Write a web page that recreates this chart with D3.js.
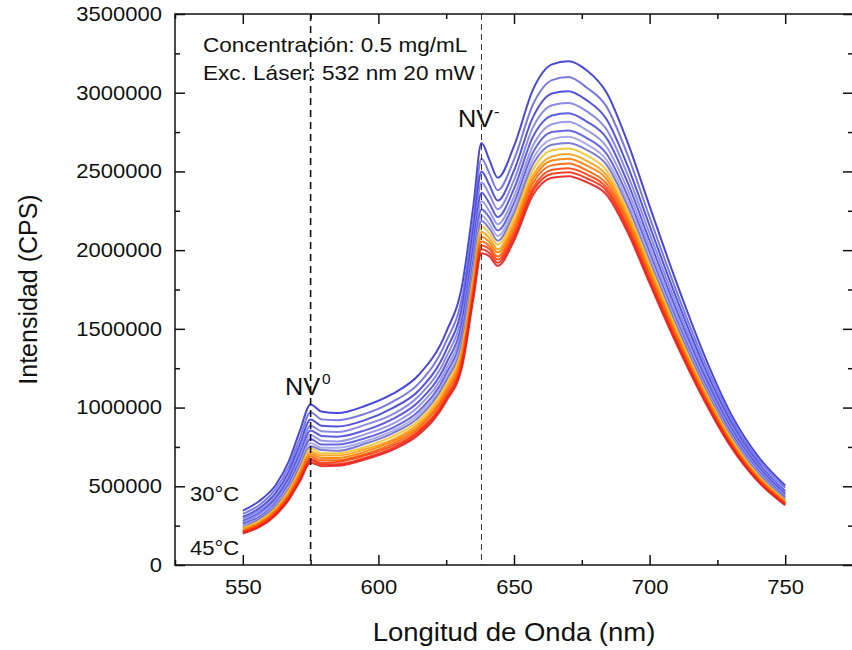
<!DOCTYPE html>
<html>
<head>
<meta charset="utf-8">
<script src="https://cdn.jsdelivr.net/npm/d3@7"></script>
<style>
body { margin: 0; background: #fff; }
text { font-family: "Liberation Sans", Arial, sans-serif; fill: #111; }
</style>
</head>
<body>
<div id="chart"></div>
<script>

// Wavelength grid (nm) shared by every spectrum.
const wavelengths = [550,556,562,567,571,575,579,585,595,605,615,625,631,635,638,
                     641,644,650,657,664,670,677,684,692,700,710,720,730,740,750];

// Temperatures (°C), one spectrum each.
const temps = [30,31,32,33,34,35,36,37,38,39,40,41,42,43,44,45];

// Intensity in thousands of CPS.
const spectra = [
  [345,405,505,660,850,1020,975,965,1010,1085,1210,1480,1790,2280,2680,2570,2460,2660,3020,3180,3200,3140,3005,2680,2280,1790,1340,960,690,505],
  [325,380,480,625,805,970,925,920,960,1035,1155,1420,1715,2195,2580,2485,2380,2575,2925,3080,3100,3030,2915,2600,2210,1735,1300,935,670,490],
  [305,360,455,595,765,925,885,880,920,995,1110,1365,1655,2125,2500,2410,2315,2505,2845,2995,3010,2950,2835,2530,2155,1690,1265,910,650,470],
  [295,345,435,570,735,885,850,845,890,955,1075,1320,1605,2070,2430,2350,2260,2445,2780,2920,2935,2880,2770,2475,2105,1650,1235,890,640,460],
  [280,330,420,550,705,855,820,815,855,925,1040,1280,1555,2015,2365,2295,2210,2390,2720,2855,2870,2815,2715,2425,2060,1615,1210,870,625,450],
  [270,320,405,530,680,825,790,785,830,895,1010,1245,1515,1965,2310,2245,2165,2340,2665,2800,2815,2760,2660,2380,2020,1585,1185,855,610,440],
  [260,305,390,515,660,800,765,765,805,870,980,1215,1480,1925,2260,2205,2125,2300,2620,2750,2760,2710,2615,2340,1985,1555,1165,840,600,430],
  [250,295,380,500,640,775,745,745,785,850,960,1190,1445,1890,2220,2165,2090,2265,2580,2705,2720,2670,2575,2305,1955,1535,1150,825,590,420],
  [240,290,370,485,625,755,730,725,770,835,940,1170,1420,1860,2185,2135,2060,2235,2545,2670,2680,2635,2545,2275,1930,1515,1135,815,580,415],
  [235,280,360,475,605,740,710,710,750,815,920,1145,1395,1830,2150,2105,2035,2205,2510,2635,2645,2600,2510,2245,1910,1495,1120,805,570,410],
  [230,270,350,460,590,720,695,695,735,795,900,1125,1370,1800,2115,2075,2005,2175,2475,2595,2610,2565,2480,2220,1885,1475,1105,790,560,405],
  [220,265,345,450,580,705,680,680,720,785,885,1105,1350,1780,2085,2050,1985,2150,2450,2570,2580,2535,2455,2195,1865,1460,1095,785,555,400],
  [215,260,335,440,565,690,665,665,705,770,870,1090,1325,1755,2055,2025,1960,2125,2425,2540,2550,2505,2425,2175,1845,1445,1080,775,550,395],
  [210,250,330,430,550,675,650,655,695,755,855,1070,1305,1730,2030,2005,1940,2100,2395,2510,2520,2480,2400,2150,1825,1425,1070,765,540,390],
  [205,245,320,425,540,665,640,640,680,740,845,1055,1290,1710,2005,1980,1920,2080,2375,2485,2495,2455,2380,2130,1805,1415,1060,760,535,385],
  [200,240,315,415,530,650,628,630,670,730,830,1040,1270,1690,1980,1960,1900,2060,2350,2460,2470,2430,2355,2110,1790,1400,1050,750,530,380]
];

// Line colour per temperature (blue = cold, red = hot).
const colors = ["#3434d6","#6a6ae2","#4040da","#7d7de6","#4b4bdc","#8f8fe8","#5656de","#a2a2ea",
                "#7070cc","#f2c230","#ffa010","#ff8000","#ff6000","#ff4010","#f42a10","#e81e1e"];

// Axis ticks.
const xTicks = [550,600,650,700,750];
const xMinor = [525,575,625,675,725,775];
const yTicks = [0,500,1000,1500,2000,2500,3000,3500];
const yMinor = [250,750,1250,1750,2250,2750,3250];

// Zero-phonon lines marked with dashes.
const zpl = [
  {nm: 575, sup: "0", width: 1.6, dash: "7,5", color: "#111"},
  {nm: 638, sup: "-", width: 1.0, dash: "6,4", color: "#333"}
];


const W = 852, H = 650;
const SX = 1.1; // the source figure is a little wider than tall, stretch the text to match

let svg = d3.select("#chart").append("svg")
    .attr("width", W)
    .attr("height", H);

// Scales
let x = d3.scaleLinear().domain([525, 775]).range([175, 853]);
let y = d3.scaleLinear().domain([0, 3500]).range([565, 14]);

// put a text at (px,py) stretched horizontally
function label(g, px, py, str, size, anchor) {
  return g.append("text")
    .attr("transform", "translate(" + px + "," + py + ") scale(" + SX + ",1)")
    .attr("text-anchor", anchor || "start")
    .style("font-size", size + "px")
    .text(str);
}

// move the x/y attrs of axis labels into a stretched transform
function stretch(sel) {
  sel.each(function() {
    let t = d3.select(this);
    let tx = +t.attr("x") || 0, ty = +t.attr("y") || 0;
    t.attr("x", null).attr("y", null)
     .attr("transform", "translate(" + tx + "," + ty + ") scale(" + SX + ",1)");
  });
}


// Spectra
svg.append("clipPath").attr("id", "clip")
  .append("rect")
    .attr("x", x.range()[0]).attr("y", y.range()[1])
    .attr("width", x.range()[1] - x.range()[0])
    .attr("height", y.range()[0] - y.range()[1]);

let line = d3.line()
    .x((d, i) => x(wavelengths[i]))
    .y(d => y(d))
    .curve(d3.curveMonotoneX);

svg.append("g")
    .attr("clip-path", "url(#clip)")
  .selectAll("path")
  .data(spectra)
  .join("path")
    .attr("d", line)
    .attr("fill", "none")
    .attr("stroke", (d, i) => colors[i])
    .attr("stroke-width", 2)
    .attr("stroke-opacity", 0.9);


// Dashed ZPL markers
svg.append("g").selectAll("line")
  .data(zpl)
  .join("line")
    .attr("x1", d => x(d.nm)).attr("x2", d => x(d.nm))
    .attr("y1", y.range()[1]).attr("y2", y.range()[0])
    .attr("stroke", d => d.color)
    .attr("stroke-width", d => d.width)
    .attr("stroke-dasharray", d => d.dash);


// Axes - ticks point inward on all four sides
let axBottom = svg.append("g")
    .attr("transform", "translate(0," + y.range()[0] + ")")
    .call(d3.axisBottom(x).tickValues(xTicks).tickSize(-10).tickPadding(15));
axBottom.append("g").call(d3.axisBottom(x).tickValues(xMinor).tickSize(-5).tickFormat(""));

let axTop = svg.append("g")
    .attr("transform", "translate(0," + y.range()[1] + ")")
    .call(d3.axisTop(x).tickValues(xTicks).tickSize(-10).tickFormat(""));
axTop.append("g").call(d3.axisTop(x).tickValues(xMinor).tickSize(-5).tickFormat(""));

let axLeft = svg.append("g")
    .attr("transform", "translate(" + x.range()[0] + ",0)")
    .call(d3.axisLeft(y).tickValues(yTicks).tickSize(-10).tickPadding(13).tickFormat(d => d * 1000));
axLeft.append("g").call(d3.axisLeft(y).tickValues(yMinor).tickSize(-5).tickFormat(""));

let axRight = svg.append("g")
    .attr("transform", "translate(" + x.range()[1] + ",0)")
    .call(d3.axisRight(y).tickValues(yTicks).tickSize(-10).tickFormat(""));
axRight.append("g").call(d3.axisRight(y).tickValues(yMinor).tickSize(-5).tickFormat(""));

svg.selectAll(".domain").remove();
svg.selectAll(".tick line").attr("stroke", "#111").attr("stroke-width", 1.5);
svg.selectAll(".tick text")
    .attr("fill", "#111")
    .style("font-family", '"Liberation Sans", Arial, sans-serif')
    .style("font-size", "20px");
stretch(axBottom.selectAll(".tick text"));
stretch(axLeft.selectAll(".tick text"));

// frame
svg.append("rect")
    .attr("x", x.range()[0]).attr("y", y.range()[1])
    .attr("width", x.range()[1] - x.range()[0])
    .attr("height", y.range()[0] - y.range()[1])
    .attr("fill", "none")
    .attr("stroke", "#111")
    .attr("stroke-width", 1.5);


// Axis titles
label(svg, (x.range()[0] + x.range()[1]) / 2, 641, "Longitud de Onda (nm)", 25, "middle");
svg.append("text")
    .attr("transform", "translate(37," + (y.range()[0] + y.range()[1]) / 2 + ") rotate(-90)")
    .attr("text-anchor", "middle")
    .style("font-size", "25px")
    .text("Intensidad (CPS)");


// Annotations
let notes = svg.append("g");
label(notes, 203, 52, "Concentración: 0.5 mg/mL", 20.5);
label(notes, 203, 80, "Exc. Láser: 532 nm 20 mW", 20.5);

label(notes, 190, 501, temps[0] + "°C", 20);
label(notes, 190, 555, temps[temps.length - 1] + "°C", 20);

// NV labels next to each dashed line
label(notes, 285, 395, "NV", 23);
label(notes, 322, 384, zpl[0].sup, 14);
label(notes, 458, 127, "NV", 23);
label(notes, 494, 117, zpl[1].sup, 15);

</script>
</body>
</html>
